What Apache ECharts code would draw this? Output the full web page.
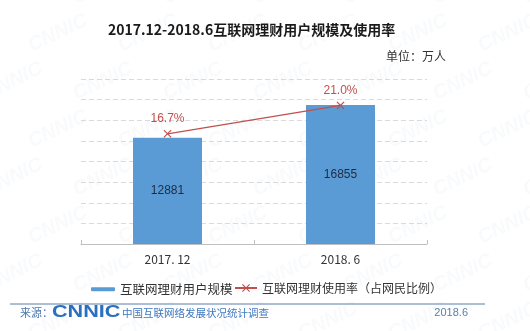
<!DOCTYPE html>
<html>
<head>
<meta charset="utf-8">
<script src="https://cdn.jsdelivr.net/npm/echarts@6/dist/echarts.min.js"></script>
<style>
  html, body { margin: 0; padding: 0; background: #fff; }
  #chart { width: 530px; height: 331px; }
</style>
</head>
<body>
<div id="chart"></div>
<script>
// Periods surveyed
const periods = ['2017. 12', '2018. 6'];
// Online wealth-management users (10k persons)
const users = [12881, 16855];
// Usage rate among netizens (%)
const usageRate = [16.7, 21.0];

const CJK = '"Noto Sans CJK SC", "Noto Sans", sans-serif';
const LATIN = '"Liberation Sans", Arial, sans-serif';
const blue = '#5b9bd5';
const red = '#c0504d';

const crossSymbol = 'path://M0,1 L1,0 L5,4 L9,0 L10,1 L6,5 L10,9 L9,10 L5,6 L1,10 L0,9 L4,5 Z';

// faint diagonal "CNNIC" watermark tiling
const watermark = [];
for (let row = 0; row < 8; row++) {
  for (let col = 0; col < 7; col++) {
    watermark.push({
      type: 'text',
      x: col * 90 + (row % 2) * 45 - 20,
      y: row * 48 - 10,
      rotation: Math.PI / 7,
      silent: true,
      z: -10,
      style: {
        text: 'CNNIC',
        font: 'italic bold 20px ' + LATIN,
        fill: 'rgba(170,190,210,0.07)'
      }
    });
  }
}

const chart = echarts.init(document.getElementById('chart'));
chart.setOption({
  backgroundColor: '#fff',
  animation: false,
  title: [{
    text: '2017.12-2018.6互联网理财用户规模及使用率',
    left: 103,
    top: 18,
    textStyle: { fontFamily: CJK, fontSize: 14, fontWeight: 'bold', color: '#1a1a1a' }
  }, {
    text: '单位：万人',
    right: 79,
    top: 45,
    textStyle: { fontFamily: CJK, fontSize: 12, fontWeight: 'normal', color: '#333' }
  }],
  legend: [{
    data: ['互联网理财用户规模'],
    left: 86,
    top: 278,
    itemWidth: 24,
    itemHeight: 4,
    itemGap: 6,
    textStyle: { fontFamily: CJK, fontSize: 12.5, color: '#333' }
  }, {
    data: ['互联网理财使用率（占网民比例）'],
    left: 229,
    top: 277,
    itemWidth: 22,
    itemHeight: 10,
    textStyle: { fontFamily: CJK, fontSize: 12, color: '#333' }
  }],
  grid: { left: 81, right: 103, top: 79, bottom: 87 },
  xAxis: {
    type: 'category',
    data: periods,
    axisLine: { lineStyle: { color: '#bfbfbf', width: 1 } },
    axisTick: { show: true, inside: true, length: 4, lineStyle: { color: '#bfbfbf' } },
    axisLabel: { fontFamily: CJK, fontSize: 12, color: '#333', margin: 9 }
  },
  yAxis: [{
    type: 'value',
    min: 0,
    max: 20000,
    interval: 2500,
    axisLabel: { show: false },
    axisLine: { show: false },
    axisTick: { show: false },
    splitLine: { lineStyle: { color: '#dadada', type: [5, 3], width: 1 } }
  }, {
    type: 'value',
    min: 0,
    max: 25,
    show: false,
    splitLine: { show: false }
  }],
  series: [{
    name: '互联网理财用户规模',
    type: 'bar',
    data: users,
    barWidth: 69,
    itemStyle: { color: blue },
    label: {
      show: true,
      position: 'inside',
      fontFamily: LATIN,
      fontSize: 12,
      color: '#1c2a44'
    }
  }, {
    name: '互联网理财使用率（占网民比例）',
    type: 'line',
    yAxisIndex: 1,
    data: usageRate,
    symbol: crossSymbol,
    symbolSize: 8,
    lineStyle: { color: red, width: 1.3 },
    itemStyle: { color: red },
    label: {
      show: true,
      position: 'top',
      distance: 5,
      fontFamily: LATIN,
      fontSize: 12,
      color: red,
      formatter: p => p.value.toFixed(1) + '%'
    },
    z: 5
  }],
  graphic: watermark.concat([
    {
      type: 'line',
      shape: { x1: 10, y1: 304, x2: 485, y2: 304 },
      style: { stroke: '#5a7fa8', lineWidth: 1 }
    },
    {
      type: 'text',
      x: 20, y: 313,
      style: { text: '来源：', font: '11px ' + CJK, fill: '#4a78b0', verticalAlign: 'middle' }
    },
    {
      type: 'text',
      x: 52, y: 313,
      scaleX: 1.35,
      style: { text: 'CNNIC', font: 'bold 16px ' + LATIN, fill: '#2a6fc0', verticalAlign: 'middle' }
    },
    {
      type: 'text',
      x: 122, y: 313,
      style: { text: '中国互联网络发展状况统计调查', font: '10.5px ' + CJK, fill: '#3f78bf', verticalAlign: 'middle' }
    },
    {
      type: 'text',
      x: 468, y: 313,
      style: { text: '2018.6', font: '11px ' + LATIN, fill: '#5a7fa8', align: 'right', verticalAlign: 'middle' }
    }
  ])
});
</script>
</body>
</html>
